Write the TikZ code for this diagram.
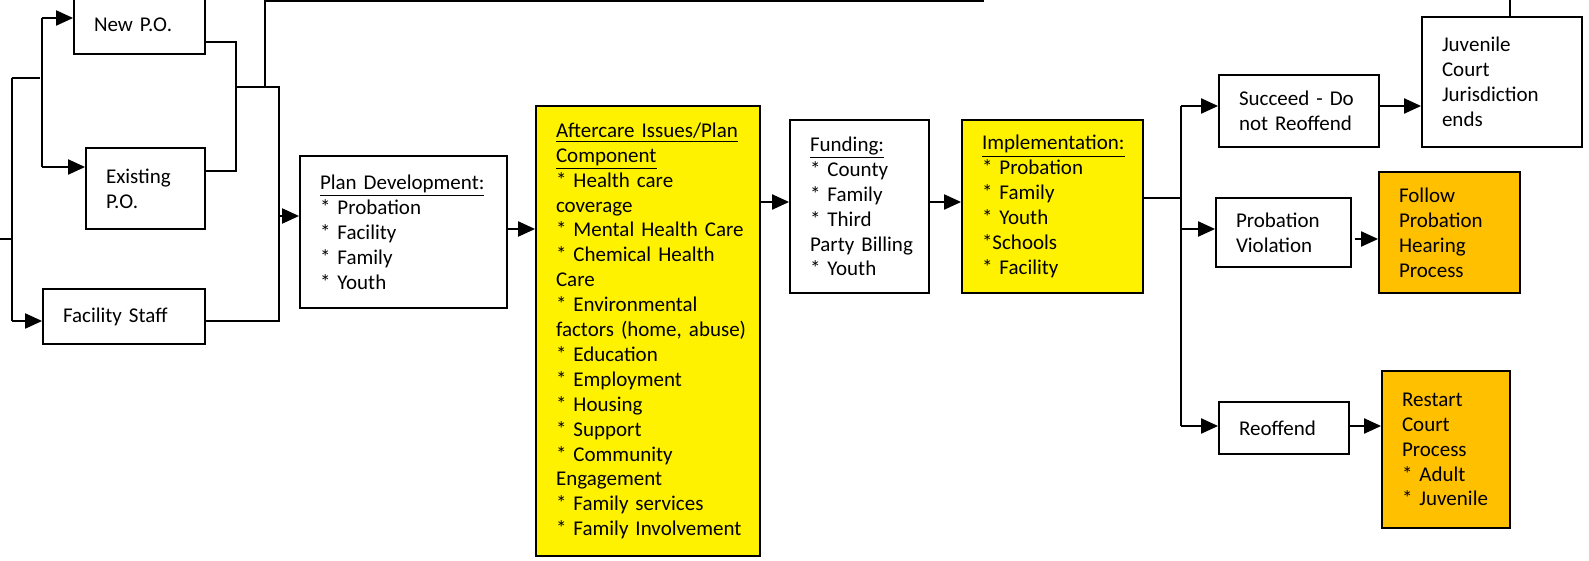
\documentclass[tikz,border=0pt]{standalone}
\usepackage{fontspec}
\setmainfont{Carlito}
\usetikzlibrary{arrows.meta}
\definecolor{amber}{HTML}{FFC000}
\tikzstyle{stage} = [rectangle, draw=black, line width=0.9pt, inner xsep=0pt, align=left, execute at begin node={\leftskip=10pt}, font=\fontsize{10.5}{12.45}\selectfont]
\tikzstyle{issue} = [stage, fill=yellow]
\tikzstyle{outcome} = [stage, fill=amber]
\tikzstyle{link} = [line width=1pt]
\tikzstyle{arrow} = [link, -{Triangle[length=8.5pt,width=7.5pt]}]

\begin{document}
\begin{tikzpicture}[x=0.5pt, y=-0.5pt]
\useasboundingbox (0,0) rectangle (1589,561);

% who writes the plan
\node (newpo) [stage, text width=65.5pt, minimum height=29.5pt] at (139.5,24.5) {New P.O.};
\node (existing) [stage, text width=59.5pt, minimum height=40.5pt] at (145.5,188.5) {Existing\\P.O.};
\node (facility) [stage, text width=81pt, minimum height=27.5pt] at (124,316.5) {Facility Staff};

% plan and its parts
\node (plan) [stage, text width=103.5pt, minimum height=76pt] at (403.5,232) {\underline{Plan Development:}\\{*} Probation\\{*} Facility\\{*} Family\\{*} Youth};
\node (aftercare) [issue, text width=112pt, minimum height=225pt] at (648,331) {\underline{Aftercare Issues/Plan}\\\underline{Component}\\{*} Health care\\coverage\\{*} Mental Health Care\\{*} Chemical Health\\Care\\{*} Environmental\\factors (home, abuse)\\{*} Education\\{*} Employment\\{*} Housing\\{*} Support\\{*} Community\\Engagement\\{*} Family services\\{*} Family Involvement};
\node (funding) [stage, text width=69.5pt, minimum height=86.5pt] at (859.5,206.5) {\underline{Funding:}\\{*} County\\{*} Family\\{*} Third\\Party Billing\\{*} Youth};
\node (implement) [issue, text width=90.5pt, minimum height=86.5pt] at (1052.5,206.5) {\underline{Implementation:}\\{*} Probation\\{*} Family\\{*} Youth\\{*}Schools\\{*} Facility};

% outcomes
\node (succeed) [stage, text width=80pt, minimum height=36pt] at (1299,111) {Succeed - Do\\not Reoffend};
\node (juvenile) [stage, text width=80pt, minimum height=65pt] at (1502,82) {Juvenile\\Court\\Jurisdiction\\ends};
\node (violation) [stage, text width=67.5pt, minimum height=34.5pt] at (1283.5,232.5) {Probation\\Violation};
\node (follow) [outcome, text width=70.5pt, minimum height=60.5pt] at (1449.5,232.5) {Follow\\Probation\\Hearing\\Process};
\node (reoffend) [stage, text width=65pt, minimum height=26pt] at (1284,428) {Reoffend};
\node (restart) [outcome, text width=64pt, minimum height=78.5pt] at (1446,449.5) {Restart\\Court\\Process\\{*} Adult\\{*} Juvenile};

% junction points
\coordinate (entry) at (0,239);
\coordinate (forkTop) at (12,78);
\coordinate (forkMid) at (12,239);
\coordinate (forkBot) at (12,321);
\coordinate (forkGap) at (40,78);
\coordinate (poTop) at (42,18);
\coordinate (poBot) at (42,167);
\coordinate (mergeTop) at (236,42);
\coordinate (mergeMid) at (236,87);
\coordinate (mergeBot) at (236,171);
\coordinate (riseFoot) at (265,87);
\coordinate (riseTop) at (265,1);
\coordinate (topEnd) at (984,1);
\coordinate (planTop) at (279,87);
\coordinate (planIn) at (279,216);
\coordinate (planBot) at (279,321);
\coordinate (toAftercare) at (0,229);
\coordinate (toFunding) at (0,202);
\coordinate (branch) at (1181,198);
\coordinate (branchTop) at (1181,106);
\coordinate (branchViol) at (1181,229);
\coordinate (branchBot) at (1181,426);
\coordinate (toFollow) at (0,239);
\coordinate (exitTop) at (1510,-10);

% left side
\draw [link] (entry) -- (forkMid);
\draw [link] (forkTop) -- (forkBot);
\draw [link] (forkTop) -- (forkGap);
\draw [arrow] (forkBot) -- (facility.west |- forkBot);
\draw [link] (poTop) -- (poBot);
\draw [arrow] (poTop) -- (newpo.west |- poTop);
\draw [arrow] (poBot) -- (existing.west |- poBot);
\draw [link] (newpo.east |- mergeTop) -- (mergeTop) -- (mergeBot) -- (existing.east |- mergeBot);
\draw [link] (mergeMid) -- (planTop) -- (planBot) -- (facility.east |- planBot);
\draw [link] (riseFoot) -- (riseTop) -- (topEnd);
\draw [arrow] (planIn) -- (plan.west |- planIn);

% main line
\draw [arrow] (plan.east |- toAftercare) -- (aftercare.west |- toAftercare);
\draw [arrow] (aftercare.east |- toFunding) -- (funding.west |- toFunding);
\draw [arrow] (funding.east |- toFunding) -- (implement.west |- toFunding);
\draw [link] (implement.east |- branch) -- (branch);
\draw [link] (branchTop) -- (branchBot);
\draw [arrow] (branchTop) -- (succeed.west |- branchTop);
\draw [arrow] (branchViol) -- (violation.west |- branchViol);
\draw [arrow] (branchBot) -- (reoffend.west |- branchBot);
\draw [arrow] (succeed.east |- branchTop) -- (juvenile.west |- branchTop);
\draw [arrow, shorten <=1.5pt] (violation.east |- toFollow) -- (follow.west |- toFollow);
\draw [arrow] (reoffend.east |- branchBot) -- (restart.west |- branchBot);
\draw [link] (juvenile.north -| exitTop) -- (exitTop);
\end{tikzpicture}
\end{document}
